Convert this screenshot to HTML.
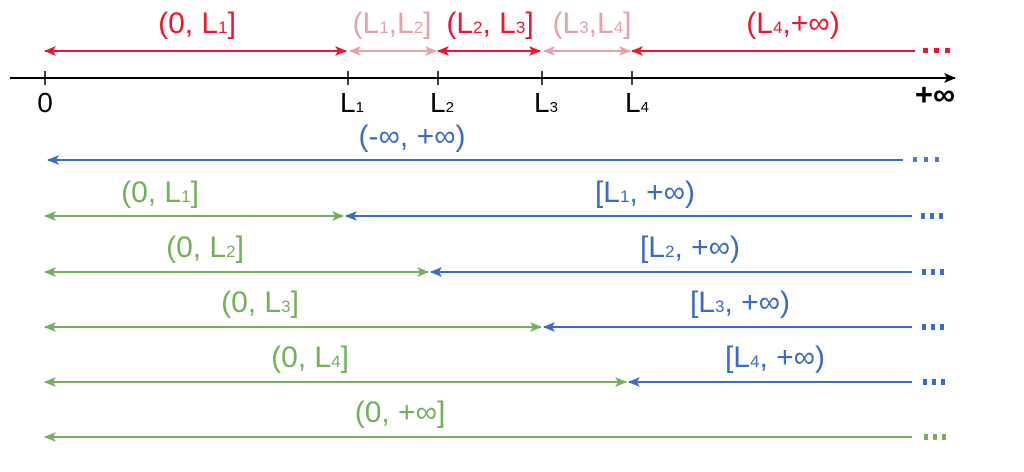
<!DOCTYPE html>
<html><head><meta charset="utf-8"><style>
html,body{margin:0;padding:0;background:#fff;}
svg{display:block;}
text{font-family:"Liberation Sans","DejaVu Sans",sans-serif;}
</style></head><body>
<svg width="1024" height="472" viewBox="0 0 1024 472" xmlns="http://www.w3.org/2000/svg">
<defs>
<marker id="r" viewBox="0 0 12 10" refX="11" refY="5" markerWidth="12" markerHeight="10" markerUnits="userSpaceOnUse" orient="auto-start-reverse"><path d="M0,0 L12,5 L0,10 L3,5 Z" fill="#f0142e"/></marker>
<marker id="p" viewBox="0 0 12 10" refX="11" refY="5" markerWidth="12" markerHeight="10" markerUnits="userSpaceOnUse" orient="auto-start-reverse"><path d="M0,0 L12,5 L0,10 L3,5 Z" fill="#e9a1a8"/></marker>
<marker id="b" viewBox="0 0 12 10" refX="11" refY="5" markerWidth="12" markerHeight="10" markerUnits="userSpaceOnUse" orient="auto-start-reverse"><path d="M0,0 L12,5 L0,10 L3,5 Z" fill="#3a6bc9"/></marker>
<marker id="g" viewBox="0 0 12 10" refX="11" refY="5" markerWidth="12" markerHeight="10" markerUnits="userSpaceOnUse" orient="auto-start-reverse"><path d="M0,0 L12,5 L0,10 L3,5 Z" fill="#74b05a"/></marker>
<marker id="k" viewBox="0 0 12 10" refX="11" refY="5" markerWidth="12" markerHeight="10" markerUnits="userSpaceOnUse" orient="auto"><path d="M0,0 L12,5 L0,10 L3,5 Z" fill="#000"/></marker>
</defs>
<line x1="10" y1="78" x2="955" y2="78" stroke="#000" stroke-width="2" marker-end="url(#k)"/>
<g stroke="#000" stroke-width="1.5">
<line x1="45" y1="71" x2="45" y2="85"/><line x1="348" y1="71" x2="348" y2="85"/><line x1="438" y1="71" x2="438" y2="85"/><line x1="542" y1="71" x2="542" y2="85"/><line x1="632" y1="71" x2="632" y2="85"/>
</g>
<g fill="#000" font-size="28" text-anchor="middle">
<text x="45" y="112">0</text>
<text x="352" y="112">L<tspan font-size="15">1</tspan></text>
<text x="442" y="112">L<tspan font-size="15">2</tspan></text>
<text x="546" y="112">L<tspan font-size="15">3</tspan></text>
<text x="637" y="112">L<tspan font-size="15">4</tspan></text>
<text x="935" y="105" font-size="31" font-weight="bold">+∞</text>
</g>
<line x1="45" y1="51" x2="346" y2="51" stroke="#f0142e" stroke-width="2" marker-start="url(#r)" marker-end="url(#r)"/>
<line x1="350" y1="51" x2="436" y2="51" stroke="#e9a1a8" stroke-width="2" marker-start="url(#p)" marker-end="url(#p)"/>
<line x1="438" y1="51" x2="540" y2="51" stroke="#f0142e" stroke-width="2" marker-start="url(#r)" marker-end="url(#r)"/>
<line x1="544" y1="51" x2="630" y2="51" stroke="#e9a1a8" stroke-width="2" marker-start="url(#p)" marker-end="url(#p)"/>
<line x1="632" y1="51" x2="915" y2="51" stroke="#f0142e" stroke-width="2" marker-start="url(#r)"/>
<g font-size="30" text-anchor="middle">
<text x="197" y="33" fill="#f0142e">(0, L<tspan font-size="17">1</tspan>]</text>
<text x="490" y="33" fill="#f0142e">(L<tspan font-size="17">2</tspan>, L<tspan font-size="17">3</tspan>]</text>
<text x="793" y="33" fill="#f0142e">(L<tspan font-size="17">4</tspan>,+∞)</text>
<text x="392" y="33" fill="#e9a1a8">(L<tspan font-size="17">1</tspan>,L<tspan font-size="17">2</tspan>]</text>
<text x="592" y="33" fill="#e9a1a8">(L<tspan font-size="17">3</tspan>,L<tspan font-size="17">4</tspan>]</text>
<text x="412" y="146" fill="#3a6bc9">(-∞, +∞)</text>
</g>
<g>
<rect x="923" y="48" width="5" height="5" fill="#f0142e"/><rect x="934" y="48" width="5" height="5" fill="#f0142e"/><rect x="945" y="48" width="5" height="5" fill="#f0142e"/>
<rect x="913" y="157" width="4" height="5" fill="#4a7bd4"/><rect x="924" y="157" width="4" height="5" fill="#4a7bd4"/><rect x="935" y="157" width="4" height="5" fill="#4a7bd4"/>
</g>
<g fill="#3a6bc9">
<rect x="921" y="213" width="4" height="6"/><rect x="930" y="213" width="4" height="6"/><rect x="939" y="213" width="4" height="6"/>
<rect x="922" y="269" width="4" height="6"/><rect x="931" y="269" width="4" height="6"/><rect x="940" y="269" width="4" height="6"/>
<rect x="922" y="324" width="4" height="6"/><rect x="931" y="324" width="4" height="6"/><rect x="940" y="324" width="4" height="6"/>
<rect x="923" y="379" width="4" height="6"/><rect x="932" y="379" width="4" height="6"/><rect x="941" y="379" width="4" height="6"/>
</g>
<g fill="#74b05a">
<rect x="924" y="434" width="4" height="6"/><rect x="933" y="434" width="4" height="6"/><rect x="942" y="434" width="4" height="6"/>
</g>
<line x1="48" y1="160" x2="903" y2="160" stroke="#3a6bc9" stroke-width="2" marker-start="url(#b)"/>
<g stroke-width="2">
<line x1="45" y1="216" x2="343" y2="216" stroke="#74b05a" marker-start="url(#g)" marker-end="url(#g)"/>
<line x1="346" y1="216" x2="912" y2="216" stroke="#3a6bc9" marker-start="url(#b)"/>
<line x1="45" y1="272" x2="428" y2="272" stroke="#74b05a" marker-start="url(#g)" marker-end="url(#g)"/>
<line x1="431" y1="272" x2="912" y2="272" stroke="#3a6bc9" marker-start="url(#b)"/>
<line x1="45" y1="327" x2="541" y2="327" stroke="#74b05a" marker-start="url(#g)" marker-end="url(#g)"/>
<line x1="544" y1="327" x2="912" y2="327" stroke="#3a6bc9" marker-start="url(#b)"/>
<line x1="45" y1="382" x2="626" y2="382" stroke="#74b05a" marker-start="url(#g)" marker-end="url(#g)"/>
<line x1="629" y1="382" x2="912" y2="382" stroke="#3a6bc9" marker-start="url(#b)"/>
<line x1="45" y1="437" x2="912" y2="437" stroke="#74b05a" marker-start="url(#g)"/>
</g>
<g fill="#74b05a" font-size="30" text-anchor="middle">
<text x="160" y="202">(0, L<tspan font-size="17">1</tspan>]</text>
<text x="205" y="257">(0, L<tspan font-size="17">2</tspan>]</text>
<text x="260" y="312">(0, L<tspan font-size="17">3</tspan>]</text>
<text x="310" y="367">(0, L<tspan font-size="17">4</tspan>]</text>
<text x="400" y="422">(0, +∞]</text>
</g>
<g fill="#3a6bc9" font-size="30" text-anchor="middle">
<text x="645" y="202">[L<tspan font-size="17">1</tspan>, +∞)</text>
<text x="690" y="257">[L<tspan font-size="17">2</tspan>, +∞)</text>
<text x="740" y="312">[L<tspan font-size="17">3</tspan>, +∞)</text>
<text x="775" y="367">[L<tspan font-size="17">4</tspan>, +∞)</text>
</g>
</svg>
</body></html>
